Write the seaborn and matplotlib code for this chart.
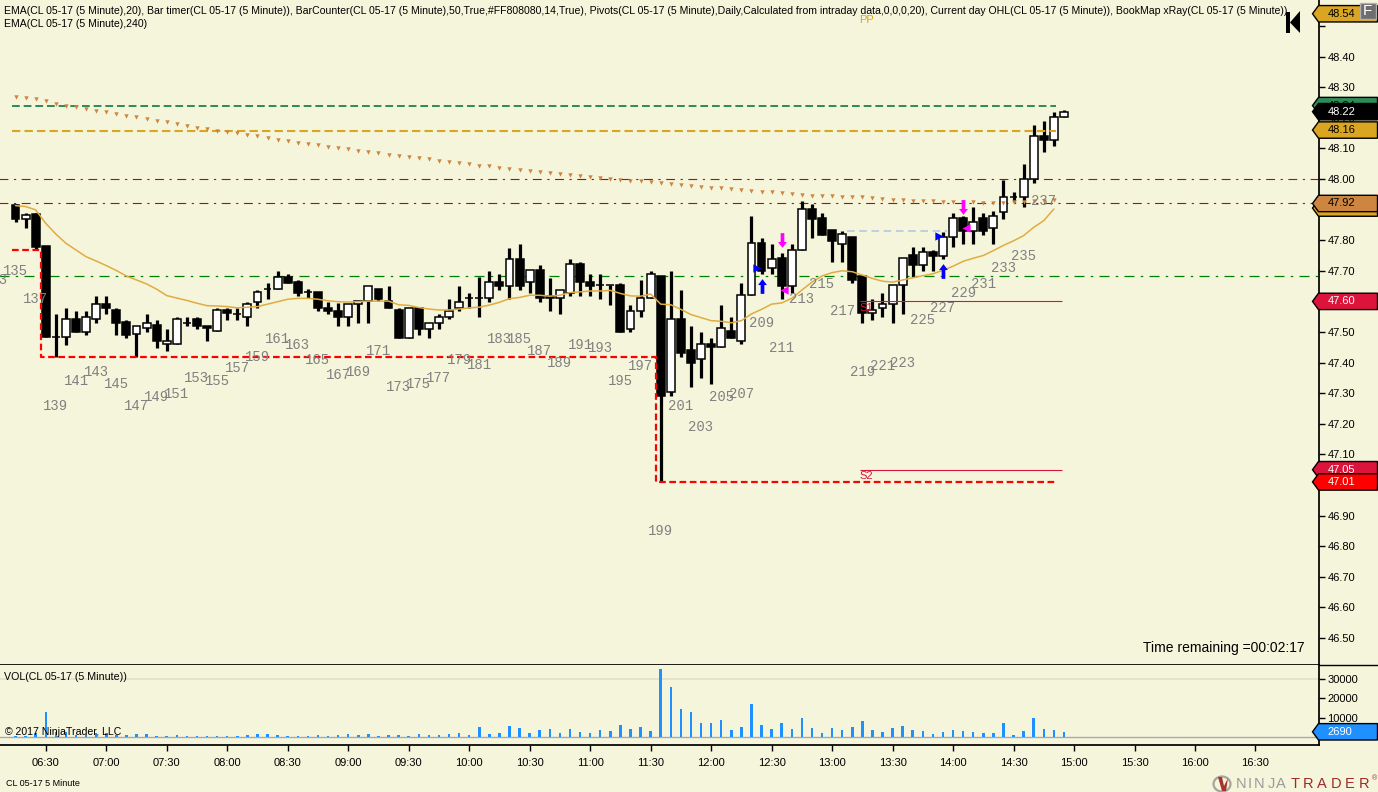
import matplotlib
matplotlib.use("Agg")
import matplotlib.pyplot as plt
from matplotlib.patches import Polygon, Rectangle, Ellipse
import numpy as np
import pandas as pd
import seaborn as sns

opens = [47.915, 47.870, 47.886, 47.781, 47.483, 47.483, 47.541, 47.501, 47.541, 47.590,
         47.572, 47.532, 47.492, 47.512, 47.523, 47.460, 47.460, 47.530, 47.542, 47.520,
         47.502, 47.572, 47.560, 47.550, 47.599, 47.640, 47.639, 47.681, 47.662, 47.630,
         47.630, 47.580, 47.570, 47.550, 47.590, 47.600, 47.639, 47.600, 47.572, 47.481,
         47.579, 47.511, 47.531, 47.550, 47.579, 47.610, 47.610, 47.610, 47.662, 47.651,
         47.740, 47.662, 47.701, 47.617, 47.610, 47.629, 47.721, 47.662, 47.652, 47.652,
         47.652, 47.511, 47.569, 47.610, 47.683, 47.303, 47.541, 47.440, 47.411, 47.460,
         47.450, 47.502, 47.472, 47.620, 47.790, 47.710, 47.741, 47.651, 47.769, 47.901,
         47.871, 47.832, 47.789, 47.809, 47.682, 47.561, 47.580, 47.590, 47.652, 47.751,
         47.720, 47.761, 47.749, 47.809, 47.871, 47.831, 47.871, 47.841, 47.891, 47.940,
         47.940, 47.999, 48.139, 48.129, 48.201]
highs = [47.918, 47.888, 47.888, 47.781, 47.559, 47.577, 47.569, 47.569, 47.618, 47.618,
         47.578, 47.539, 47.521, 47.559, 47.539, 47.509, 47.548, 47.548, 47.548, 47.520,
         47.577, 47.577, 47.577, 47.597, 47.637, 47.659, 47.699, 47.688, 47.670, 47.639,
         47.630, 47.598, 47.596, 47.590, 47.600, 47.651, 47.639, 47.650, 47.577, 47.579,
         47.579, 47.530, 47.558, 47.607, 47.650, 47.628, 47.681, 47.698, 47.688, 47.776,
         47.787, 47.701, 47.719, 47.678, 47.638, 47.738, 47.728, 47.688, 47.688, 47.652,
         47.659, 47.587, 47.670, 47.698, 47.683, 47.699, 47.637, 47.520, 47.499, 47.479,
         47.588, 47.549, 47.659, 47.879, 47.806, 47.788, 47.757, 47.788, 47.928, 47.918,
         47.888, 47.832, 47.829, 47.809, 47.682, 47.607, 47.626, 47.652, 47.741, 47.778,
         47.778, 47.768, 47.828, 47.888, 47.880, 47.908, 47.888, 47.897, 47.997, 47.956,
         48.049, 48.175, 48.188, 48.218, 48.227]
lows = [47.859, 47.841, 47.770, 47.483, 47.419, 47.457, 47.501, 47.490, 47.530, 47.559,
        47.490, 47.480, 47.419, 47.501, 47.449, 47.439, 47.460, 47.520, 47.511, 47.472,
        47.502, 47.539, 47.539, 47.521, 47.579, 47.608, 47.639, 47.661, 47.618, 47.610,
        47.570, 47.559, 47.521, 47.520, 47.530, 47.530, 47.600, 47.579, 47.481, 47.481,
        47.491, 47.481, 47.511, 47.541, 47.569, 47.579, 47.550, 47.599, 47.638, 47.608,
        47.638, 47.628, 47.599, 47.569, 47.560, 47.618, 47.618, 47.618, 47.609, 47.589,
        47.501, 47.501, 47.550, 47.610, 47.010, 47.292, 47.419, 47.321, 47.351, 47.331,
        47.450, 47.481, 47.460, 47.620, 47.689, 47.689, 47.609, 47.628, 47.769, 47.808,
        47.818, 47.730, 47.730, 47.661, 47.530, 47.539, 47.550, 47.530, 47.560, 47.681,
        47.700, 47.700, 47.739, 47.779, 47.789, 47.789, 47.818, 47.789, 47.870, 47.926,
        47.909, 47.988, 48.089, 48.109, 48.201]
closes = [47.869, 47.881, 47.779, 47.483, 47.483, 47.541, 47.501, 47.550, 47.590, 47.579,
          47.530, 47.490, 47.521, 47.530, 47.472, 47.472, 47.541, 47.530, 47.520, 47.512,
          47.571, 47.561, 47.560, 47.590, 47.631, 47.640, 47.681, 47.661, 47.628, 47.630,
          47.579, 47.570, 47.550, 47.590, 47.600, 47.651, 47.608, 47.579, 47.481, 47.579,
          47.511, 47.530, 47.550, 47.569, 47.599, 47.610, 47.610, 47.662, 47.651, 47.740,
          47.651, 47.701, 47.610, 47.610, 47.638, 47.721, 47.662, 47.651, 47.652, 47.652,
          47.501, 47.569, 47.610, 47.691, 47.292, 47.541, 47.430, 47.400, 47.460, 47.450,
          47.512, 47.481, 47.620, 47.790, 47.700, 47.740, 47.651, 47.769, 47.901, 47.869,
          47.818, 47.798, 47.819, 47.671, 47.561, 47.571, 47.590, 47.652, 47.741, 47.719,
          47.760, 47.750, 47.809, 47.871, 47.830, 47.861, 47.831, 47.880, 47.940, 47.940,
          47.999, 48.139, 48.129, 48.201, 48.220]
volumes = [690, 690, 2070, 13130, 2590, 2590, 1210, 860, 2070, 2070, 1210, 1210, 1730, 1730, 690,
           690, 1210, 260, 690, 690, 690, 690, 690, 1210, 1730, 1730, 1210, 690, 690, 260,
           1210, 690, 1210, 1730, 1210, 1730, 690, 1210, 1210, 690, 1730, 1210, 1210, 1730, 2250,
           1210, 5350, 1730, 2250, 5870, 4840, 2250, 3800, 4320, 2250, 4320, 2760, 2250, 3800, 3280,
           6390, 4320, 5350, 3280, 35200, 25900, 14700, 13100, 7430, 7430, 8980, 3800, 5350, 17270, 6390,
           4320, 7430, 4320, 10020, 4840, 2250, 4840, 3800, 5350, 8460, 3800, 2760, 4840, 5870, 3800,
           3280, 1730, 2760, 3800, 3280, 2760, 2250, 2250, 7430, 1210, 3280, 10020, 4320, 3800, 2690]
ema20 = [47.913, 47.910, 47.899, 47.855, 47.820, 47.790, 47.768, 47.746, 47.732, 47.717,
         47.701, 47.683, 47.670, 47.657, 47.640, 47.619, 47.611, 47.603, 47.594, 47.586,
         47.585, 47.583, 47.579, 47.581, 47.583, 47.591, 47.599, 47.607, 47.610, 47.610,
         47.607, 47.602, 47.599, 47.598, 47.599, 47.601, 47.601, 47.601, 47.589, 47.587,
         47.580, 47.575, 47.572, 47.572, 47.575, 47.579, 47.581, 47.588, 47.597, 47.609,
         47.613, 47.620, 47.620, 47.617, 47.620, 47.629, 47.631, 47.634, 47.634, 47.636,
         47.626, 47.618, 47.617, 47.624, 47.591, 47.589, 47.574, 47.557, 47.547, 47.537,
         47.535, 47.530, 47.537, 47.559, 47.574, 47.591, 47.595, 47.610, 47.637, 47.663,
         47.683, 47.694, 47.700, 47.697, 47.686, 47.675, 47.666, 47.663, 47.670, 47.677,
         47.684, 47.690, 47.702, 47.715, 47.731, 47.741, 47.750, 47.766, 47.783, 47.798,
         47.815, 47.842, 47.864, 47.902]
ema240 = [48.267, 48.264, 48.260, 48.254, 48.246, 48.240, 48.234, 48.228, 48.223, 48.218,
          48.211, 48.205, 48.204, 48.197, 48.191, 48.185, 48.179, 48.173, 48.168, 48.163,
          48.158, 48.154, 48.149, 48.144, 48.139, 48.134, 48.129, 48.124, 48.119, 48.114,
          48.110, 48.106, 48.101, 48.097, 48.093, 48.088, 48.084, 48.080, 48.076, 48.072,
          48.068, 48.064, 48.060, 48.056, 48.052, 48.048, 48.044, 48.041, 48.037, 48.033,
          48.030, 48.027, 48.024, 48.020, 48.017, 48.014, 48.010, 48.007, 48.004, 48.001,
          47.998, 47.995, 47.992, 47.989, 47.986, 47.983, 47.980, 47.977, 47.974, 47.971,
          47.969, 47.966, 47.963, 47.961, 47.958, 47.956, 47.953, 47.950, 47.948, 47.946,
          47.945, 47.944, 47.942, 47.941, 47.940, 47.938, 47.935, 47.932, 47.931, 47.929,
          47.928, 47.927, 47.926, 47.925, 47.925, 47.924, 47.923, 47.923, 47.923, 47.924,
          47.925, 47.927, 47.928, 47.931]

counter_numbers = list(range(133, 238, 2))
counter_prices = [47.670, 47.699, 47.608, 47.258, 47.340, 47.369, 47.330, 47.258, 47.288, 47.297,
                  47.350, 47.340, 47.382, 47.418, 47.477, 47.458, 47.408, 47.359, 47.369, 47.438,
                  47.320, 47.330, 47.350, 47.408, 47.392, 47.477, 47.477, 47.438, 47.399, 47.458,
                  47.448, 47.340, 47.389, 46.850, 47.258, 47.190, 47.288, 47.297, 47.529, 47.448,
                  47.608, 47.657, 47.569, 47.369, 47.389, 47.399, 47.539, 47.578, 47.627, 47.657,
                  47.709, 47.748, 47.928]

price_ticks = [46.5, 46.6, 46.7, 46.8, 46.9, 47.0, 47.1, 47.2, 47.3, 47.4, 47.5, 47.6, 47.7,
               47.8, 47.9, 48.0, 48.1, 48.2, 48.3, 48.4, 48.5]
time_ticks = [3, 9, 15, 21, 27, 33, 39, 45, 51, 57, 63, 69, 75, 81, 87, 93, 99, 105, 111, 117, 123]
time_labels = ["06:30", "07:00", "07:30", "08:00", "08:30", "09:00", "09:30", "10:00", "10:30",
               "11:00", "11:30", "12:00", "12:30", "13:00", "13:30", "14:00", "14:30", "15:00",
               "15:30", "16:00", "16:30"]
vol_ticks = [10000, 20000, 30000]

tag_prices = [48.54, 48.24, 48.16, 47.905, 47.92, 47.60, 47.05, 47.01, 48.22]
tag_labels = ["48.54", "48.24", "48.16", "47.90", "47.92", "47.60", "47.05", "47.01", "48.22"]
tag_fills = ["#DAA520", "#2E8B57", "#DAA520", "#DAA520", "#CD853F", "#DC143C", "#DC143C", "#FF0000", "#000000"]
tag_inks = ["black", "black", "black", "black", "black", "white", "white", "white", "white"]

low_step_x = [-0.35, 2.5, 2.5, 63.5, 63.5, 103.2]
low_step_y = [47.768, 47.768, 47.418, 47.418, 47.010, 47.010]

header_1 = ("EMA(CL 05-17 (5 Minute),20), Bar timer(CL 05-17 (5 Minute)), BarCounter(CL 05-17 (5 Minute),50,True,"
            "#FF808080,14,True), Pivots(CL 05-17 (5 Minute),Daily,Calculated from intraday data,0,0,0,20), "
            "Current day OHL(CL 05-17 (5 Minute)), BookMap xRay(CL 05-17 (5 Minute))")
header_2 = "EMA(CL 05-17 (5 Minute),240)"

BG = "#F5F5DC"
W, H = 1378, 792
sns.set_theme(style="white", rc={"figure.facecolor": BG, "axes.facecolor": BG, "savefig.facecolor": BG})
plt.rcParams["font.family"] = ["Liberation Sans", "DejaVu Sans"]

df = pd.DataFrame({"bar": np.arange(len(opens)), "open": opens, "high": highs, "low": lows,
                   "close": closes, "volume": volumes})

fig = plt.figure(figsize=(W / 100, H / 100), dpi=100)
ax = fig.add_axes([0, (H - 664.5) / H, 1318.5 / W, 664.5 / H])
ax_vol = fig.add_axes([0, (H - 745) / H, 1318.5 / W, 80 / H])

# candles
ax.vlines(df["bar"], df["low"], df["high"], color="black", lw=2.3, zorder=2)
up = df["close"] >= df["open"]
ax.bar(df["bar"][up], (df["close"] - df["open"])[up], bottom=df["open"][up], width=0.78,
       color="white", edgecolor="black", linewidth=1.1, zorder=3)
ax.bar(df["bar"][~up], (df["close"] - df["open"])[~up], bottom=df["open"][~up], width=0.78,
       color="black", edgecolor="black", linewidth=1.1, zorder=3)

# levels
ax.hlines(48.00, -2, 130, color="#CC0000", lw=0.8, ls=(0, (8, 5, 2, 5)), zorder=1)
ax.hlines(47.92, -2, 130, color="#CC0000", lw=0.8, ls=(0, (8, 5, 2, 5)), zorder=1)
ax.hlines(47.683, -2, 130, color="#008000", lw=0.9, ls=(0, (8, 5, 2, 5)), zorder=1)
ax.hlines(48.239, -0.35, 103.2, color="#2E8B57", lw=1.4, ls=(0, (4, 2)), zorder=4)
ax.hlines(48.157, -0.35, 103.2, color="#DAA520", lw=1.5, ls=(0, (4, 2)), zorder=4)
ax.hlines(47.60, 83.8, 103.8, color="#DC143C", lw=0.8, zorder=4)
ax.hlines(47.05, 83.8, 103.8, color="#DC143C", lw=0.8, zorder=4)
ax.hlines(47.831, 82.5, 92.4, color="#B0C4DE", lw=1.1, ls=(0, (5, 3)), zorder=1)
ax.plot(low_step_x, low_step_y, color="#FF0000", lw=1.6, ls=(0, (3, 1.6)), zorder=4)

sns.lineplot(x=np.arange(len(ema20)), y=ema20, color="#E0AC40", lw=1.1, errorbar=None, ax=ax, zorder=5)
sns.scatterplot(x=np.arange(len(ema240)), y=ema240, color="#CD853F", marker="v", s=10, linewidth=0,
                ax=ax, zorder=5)

# arrows and triangles
up_arrow = [(0, 1), (0.6, 0.2), (0.25, 0.2), (0.25, -1), (-0.25, -1), (-0.25, 0.2), (-0.6, 0.2)]
down_arrow = [(x, -y) for x, y in up_arrow]
ax.scatter([74, 92], [47.649, 47.698], marker=up_arrow, s=112, color="#0000FF", linewidth=0, zorder=6)
ax.scatter([76, 94], [47.801, 47.910], marker=down_arrow, s=112, color="#FF00FF", linewidth=0, zorder=6)
ax.scatter([73.6, 91.6], [47.709, 47.815], marker=">", s=36, color="#0000FF", linewidth=0, zorder=6)
ax.scatter([76.25, 94.25], [47.637, 47.840], marker="<", s=36, color="#FF00FF", linewidth=0, zorder=6)

# bar counter
for num, price in zip(counter_numbers, counter_prices):
    ax.text(num - 135, price, str(num), color="#808080", fontsize=10, family="Liberation Mono",
            ha="center", va="center", zorder=7, clip_on=True)

ax.text(84.4, 47.578, "S1", color="#DC143C", fontsize=8, ha="center", va="center", zorder=7)
ax.text(84.4, 47.028, "S2", color="#DC143C", fontsize=8, ha="center", va="center", zorder=7)
ax.text(84.4, 48.52, "PP", color="#DAA520", fontsize=8, ha="center", va="center", zorder=7)

ax.set_xlim(-1.54, 129.25)
ax.set_ylim(48 - (664.5 - 179) / 306, 48 + 179 / 306)
ax.set_xticks([])
ax.set_yticks(price_ticks, [f"{t:.2f}" if t < 48.45 else "" for t in price_ticks])
ax.yaxis.tick_right()
ax.tick_params(axis="y", length=4.3, width=1, color="black", labelsize=8, labelcolor="black", pad=2, right=True)
for side in ["top", "left"]:
    ax.spines[side].set_visible(False)
ax.spines["right"].set_color("black")
ax.spines["bottom"].set_color("black")
ax.set_xlabel("")
ax.set_ylabel("")

# volume
sns.barplot(data=df, x="bar", y="volume", native_scale=True, width=0.25, color="#1E90FF", saturation=1,
            linewidth=0, ax=ax_vol, zorder=3)
ax_vol.axhline(30000, color="#DEDECB", lw=1.1, zorder=1)
ax_vol.axhline(0, color="#A9A9A9", lw=1.0, zorder=2)
ax_vol.set_xlim(-1.54, 129.25)
ax_vol.set_ylim(-(745 - 737) * 518, (737 - 665) * 518)
ax_vol.set_xticks(time_ticks, time_labels)
ax_vol.set_yticks(vol_ticks, [str(t) for t in vol_ticks])
ax_vol.yaxis.tick_right()
ax_vol.tick_params(axis="y", length=4.3, width=1, color="black", labelsize=8, labelcolor="black", pad=2, right=True)
ax_vol.tick_params(axis="x", length=4.2, width=1, color="black", labelsize=8, labelcolor="black", pad=5.5, bottom=True)
ax_vol.spines["left"].set_visible(False)
ax_vol.spines["top"].set_visible(False)
for side in ["right", "bottom"]:
    ax_vol.spines[side].set_color("black")
ax_vol.set_xlabel("")
ax_vol.set_ylabel("")


def price_tag(axis, value, label, fill, ink, half, z, x_frac=1318.5):
    tip = 1 - 6 / x_frac
    right = (W - 0.5) / x_frac
    pts = [(tip, value), (1, value + half), (right, value + half), (right, value - half), (1, value - half)]
    axis.add_patch(Polygon(pts, closed=True, facecolor=fill, edgecolor="black", lw=1,
                           transform=axis.get_yaxis_transform(), clip_on=False, zorder=z))
    axis.text(1 + 9 / x_frac, value, label, color=ink, fontsize=8, va="center", ha="left",
              transform=axis.get_yaxis_transform(), clip_on=False, zorder=z + 1)


for i, (value, label, fill, ink) in enumerate(zip(tag_prices, tag_labels, tag_fills, tag_inks)):
    price_tag(ax, value, label, fill, ink, 8.2 / 306, 10 + 2 * i)
price_tag(ax_vol, volumes[-1], "2690", "#1E90FF", "white", 8.2 * 518, 10)

# window furniture in pixel coordinates
over = fig.add_axes([0, 0, 1, 1], facecolor="none")
over.set_xlim(0, W)
over.set_ylim(H, 0)
over.axis("off")
over.text(4, 11, header_1, fontsize=7.6, color="black", va="center")
over.text(4, 24, header_2, fontsize=7.6, color="black", va="center")
over.text(4, 677, "VOL(CL 05-17 (5 Minute))", fontsize=7.7, color="black", va="center")
over.text(5, 732, "\u00a9 2017 NinjaTrader, LLC", fontsize=7.6, color="black", va="center")
over.text(6, 783, "CL 05-17 5 Minute", fontsize=6.5, color="black", va="center")
over.text(1305, 648, "Time remaining =00:02:17", fontsize=10, color="black", va="center", ha="right")
over.plot([1318.5, W], [664.5, 664.5], color="black", lw=1)

over.add_patch(Rectangle((1286, 12), 4, 21, color="black", lw=0))
over.add_patch(Polygon([(1290, 22.5), (1300, 11), (1300, 33)], color="black", lw=0))
over.add_patch(Rectangle((1359.5, 2.5), 16, 16, facecolor="#6E6E6E", edgecolor="#B0B0B0", lw=1, zorder=12))
over.text(1367.5, 11, "F", color="white", fontsize=11, ha="center", va="center", zorder=13)

over.add_patch(Ellipse((1222, 784), 17, 15, facecolor="none", edgecolor="#A8A49A", lw=1.6))
over.add_patch(Polygon([(1218, 777), (1222, 777), (1224, 786), (1228, 778), (1226, 791), (1222, 791)],
                       color="#A83232", lw=0))
letters = ["N", "I", "N", "J", "A", "T", "R", "A", "D", "E", "R"]
letter_x = [1241, 1250, 1259, 1271, 1281, 1295, 1308, 1322, 1336, 1350, 1364]
for i, (ch, lx) in enumerate(zip(letters, letter_x)):
    over.text(lx, 783.5, ch, fontsize=10.5, color="#9A9A9A" if i < 5 else "#A02828",
              ha="center", va="center")
over.text(1375, 779, "\u00ae", fontsize=5, color="#A83232", ha="center", va="center")

fig.savefig("out.png", dpi=100)
